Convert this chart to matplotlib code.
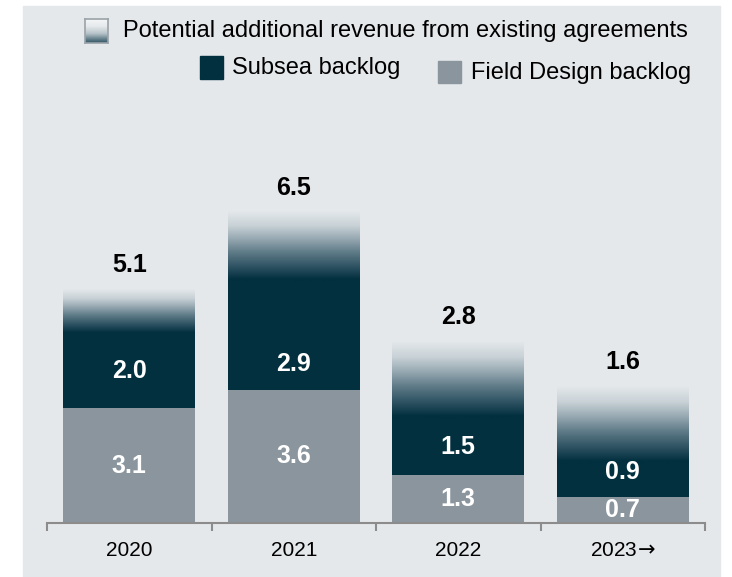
import matplotlib
matplotlib.use('Agg')
import matplotlib.pyplot as plt
import numpy as np
from matplotlib.colors import LinearSegmentedColormap
from matplotlib.patches import Rectangle

# data (NOK bn)
years = ['2020', '2021', '2022', r'2023$\!\rightarrow$']
field_design = [3.1, 3.6, 1.3, 0.7]
subsea = [2.0, 2.9, 1.5, 0.9]
potential = [1.2, 1.9, 2.1, 2.1]   # gradient part, not labelled
totals = ['5.1', '6.5', '2.8', '1.6']

BG = '#e4e8eb'
NAVY = '#03303f'
GREY = '#8a959e'

W, H = 732, 577
plt.rcParams['font.family'] = ['Liberation Sans', 'DejaVu Sans']
plt.rcParams['mathtext.fontset'] = 'dejavusans'

fig = plt.figure(figsize=(W / 100, H / 100), dpi=100)
fig.patch.set_facecolor('white')


def fx(x):
    return x / W


def fy(y):
    return 1 - y / H


# grey panel behind everything
fig.patches.append(Rectangle((fx(23), fy(577)), fx(720) - fx(23), fy(6) - fy(577),
                             transform=fig.transFigure, color=BG, zorder=-10))

# navy at 0 -> background at 1
fade = LinearSegmentedColormap.from_list('fade', [
    (0.0, NAVY), (0.04, NAVY), (0.2, '#2a4f5f'), (0.42, '#5f7b88'),
    (0.62, '#9aabb4'), (0.8, '#c9d2d7'), (1.0, BG)])
grad = np.linspace(0, 1, 256).reshape(-1, 1)

ax = fig.add_axes([fx(47), fy(523), fx(705) - fx(47), fy(153) - fy(523)])
ax.set_facecolor('none')

x = np.arange(len(years))
bw = 0.8
# small vertical nudges (points) of the subsea labels, as in the original
nudge = [0, -20, 0, 6]

ax.bar(x, field_design, bw, color=GREY, zorder=2)
ax.bar(x, subsea, bw, bottom=field_design, color=NAVY, zorder=2)

for i in range(len(years)):
    base = field_design[i] + subsea[i]
    top = base + potential[i]
    ax.imshow(grad, cmap=fade, origin='lower', aspect='auto', interpolation='bilinear',
              extent=[x[i] - bw / 2, x[i] + bw / 2, base, top], zorder=3)
    ax.text(x[i], field_design[i] / 2, f'{field_design[i]:.1f}', ha='center', va='center',
            color='white', fontsize=18, fontweight='bold', zorder=5)
    ax.annotate(f'{subsea[i]:.1f}', (x[i], field_design[i] + subsea[i] / 2),
                xytext=(0, nudge[i]), textcoords='offset points', ha='center', va='center',
                color='white', fontsize=18, fontweight='bold', zorder=5)
    ax.annotate(totals[i], (x[i], top), xytext=(0, 9), textcoords='offset points',
                ha='center', va='bottom', fontsize=18, fontweight='bold', color='black')

ax.set_xlim(-0.5, 3.5)
ax.set_ylim(0, 10)
for s in ['left', 'right', 'top']:
    ax.spines[s].set_visible(False)
ax.spines['bottom'].set_color('#8c8c8c')
ax.spines['bottom'].set_linewidth(1.5)
ax.set_yticks([])
ax.set_xticks(x)
ax.set_xticklabels(years, fontsize=15)
ax.tick_params(axis='x', which='major', length=0, pad=13)
ax.set_xticks(np.arange(-0.5, 4, 1), minor=True)
ax.tick_params(axis='x', which='minor', length=6, width=1.5, color='#8c8c8c')

# legend drawn by hand
lg = fig.add_axes([fx(85), fy(43), fx(108) - fx(85), fy(19) - fy(43)])
lg.imshow(grad, cmap=LinearSegmentedColormap.from_list('leg', [
    (0.0, '#2f5563'), (0.15, '#5f7b88'), (0.4, '#b8c4ca'), (0.7, '#e6eaec'), (1.0, '#f4f6f7')]),
    origin='lower', aspect='auto', interpolation='bilinear')
lg.set_xticks([])
lg.set_yticks([])
for s in lg.spines.values():
    s.set_color('#9aa3aa')
    s.set_linewidth(1.2)
fig.text(fx(123), fy(31), 'Potential additional revenue from existing agreements',
         fontsize=17, va='center', ha='left')

fig.patches.append(Rectangle((fx(200), fy(79)), fx(223) - fx(200), fy(56) - fy(79),
                             transform=fig.transFigure, color=NAVY))
fig.text(fx(232), fy(68), 'Subsea backlog', fontsize=17, va='center', ha='left')
fig.patches.append(Rectangle((fx(438), fy(83)), fx(461) - fx(438), fy(61) - fy(83),
                             transform=fig.transFigure, color=GREY))
fig.text(fx(471), fy(73), 'Field Design backlog', fontsize=17, va='center', ha='left')

fig.savefig('out.png', dpi=100, facecolor=fig.get_facecolor())
